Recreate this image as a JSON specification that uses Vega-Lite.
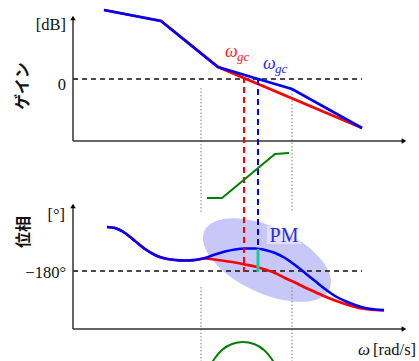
{
  "$schema": "https://vega.github.io/schema/vega-lite/v6.json",
  "width": 419,
  "height": 361,
  "autosize": {"type": "none"},
  "padding": 0,
  "background": "white",
  "config": {"view": {"stroke": null}},
  "datasets": {
    "ellipse": [{"x": 267, "y": 260}],
    "pmbox": [{"x": 267, "x2": 301, "y": 226, "y2": 244}],
    "hdash": [{"x": 73, "x2": 362, "y": 79}, {"x": 73, "x2": 362, "y": 271}],
    "ticks": [{"x": 73, "x2": 77, "y": 79}, {"x": 73, "x2": 77, "y": 271}],
    "dotted": [
      {"x": 201, "y": 88, "y2": 213}, {"x": 201, "y": 287, "y2": 361},
      {"x": 292, "y": 90, "y2": 212}, {"x": 292, "y": 287, "y2": 361}
    ],
    "gainRed": [{"x": 104, "y": 10}, {"x": 161, "y": 21}, {"x": 218, "y": 67}, {"x": 362, "y": 128}],
    "gainBlue": [{"x": 104, "y": 10}, {"x": 161, "y": 21}, {"x": 218, "y": 67}, {"x": 258, "y": 79}, {"x": 292, "y": 89}, {"x": 362, "y": 128}],
    "phaseRed": [
      {"x": 107, "y": 227}, {"x": 115, "y": 228}, {"x": 125, "y": 233}, {"x": 135, "y": 241}, {"x": 145, "y": 249},
      {"x": 155, "y": 255}, {"x": 165, "y": 258.5}, {"x": 175, "y": 260}, {"x": 185, "y": 260.5}, {"x": 195, "y": 260}, {"x": 205, "y": 258.5},
      {"x": 215, "y": 259.5}, {"x": 225, "y": 261}, {"x": 235, "y": 262.5}, {"x": 245, "y": 264.5}, {"x": 255, "y": 266.5},
      {"x": 265, "y": 269.5}, {"x": 275, "y": 273}, {"x": 285, "y": 278}, {"x": 295, "y": 282.5}, {"x": 305, "y": 287.5},
      {"x": 315, "y": 292}, {"x": 325, "y": 296.5}, {"x": 335, "y": 300.5}, {"x": 345, "y": 304}, {"x": 355, "y": 307},
      {"x": 365, "y": 309}, {"x": 375, "y": 310}, {"x": 384, "y": 310.5}
    ],
    "phaseBlue": [
      {"x": 107, "y": 227}, {"x": 115, "y": 228}, {"x": 125, "y": 233}, {"x": 135, "y": 241}, {"x": 145, "y": 249},
      {"x": 155, "y": 255}, {"x": 165, "y": 258.5}, {"x": 175, "y": 260}, {"x": 185, "y": 260.5}, {"x": 195, "y": 260}, {"x": 205, "y": 258},
      {"x": 215, "y": 254.5}, {"x": 225, "y": 251.5}, {"x": 235, "y": 249.5}, {"x": 245, "y": 248.5}, {"x": 255, "y": 248.5},
      {"x": 265, "y": 250}, {"x": 275, "y": 253}, {"x": 285, "y": 258}, {"x": 295, "y": 265}, {"x": 305, "y": 273},
      {"x": 315, "y": 281}, {"x": 325, "y": 289}, {"x": 335, "y": 296}, {"x": 345, "y": 301}, {"x": 355, "y": 305},
      {"x": 365, "y": 308}, {"x": 375, "y": 309.5}, {"x": 384, "y": 310}
    ],
    "redV": [{"x": 244, "y": 77, "y2": 272}],
    "blueV": [{"x": 258, "y": 79, "y2": 249}],
    "teal": [{"x": 258, "y": 249, "y2": 272}],
    "greenRamp": [{"x": 207, "y": 198}, {"x": 222, "y": 198}, {"x": 275, "y": 154}, {"x": 289, "y": 153}],
    "greenArc": [{"x": 210, "y": 366}, {"x": 215, "y": 358}, {"x": 222, "y": 350}, {"x": 232, "y": 344}, {"x": 243, "y": 342}, {"x": 254, "y": 344}, {"x": 264, "y": 350}, {"x": 271, "y": 358}, {"x": 276, "y": 366}],
    "axes": [
      {"x": 73, "x2": 73, "y": 141, "y2": 18},
      {"x": 73, "x2": 403, "y": 141, "y2": 141},
      {"x": 73, "x2": 73, "y": 329, "y2": 207},
      {"x": 73, "x2": 403, "y": 329, "y2": 329}
    ],
    "arrowsUp": [{"x": 73, "y": 18}, {"x": 73, "y": 206}],
    "arrowsRight": [{"x": 404, "y": 141}, {"x": 404, "y": 329}],
    "serifLabels": [
      {"x": 66, "y": 25, "t": "[dB]"},
      {"x": 66, "y": 85, "t": "0"},
      {"x": 66, "y": 273, "t": "−180°"},
      {"x": 65, "y": 215, "t": "[°]"}
    ],
    "unitLabel": [{"x": 373, "y": 350, "t": "[rad/s]"}],
    "omegaAxis": [{"x": 358, "y": 350, "t": "ω"}],
    "cjk": [{"x": 23, "y": 86, "t": "ゲイン"}, {"x": 24, "y": 232, "t": "位相"}],
    "omegaRed": [{"x": 225, "y": 52, "t": "ω"}],
    "subRed": [{"x": 237, "y": 57, "t": "gc"}],
    "omegaBlue": [{"x": 263, "y": 64, "t": "ω"}],
    "subBlue": [{"x": 275, "y": 69, "t": "gc"}],
    "pm": [{"x": 284, "y": 236, "t": "PM"}]
  },
  "encoding": {
    "x": {"field": "x", "type": "quantitative", "axis": null, "scale": {"domain": [0, 419], "nice": false, "zero": false}},
    "y": {"field": "y", "type": "quantitative", "axis": null, "scale": {"domain": [0, 361], "nice": false, "zero": false, "reverse": true}}
  },
  "layer": [
    {
      "data": {"name": "ellipse"},
      "mark": {"type": "point", "filled": true, "shape": "M-1,0A1,0.48,0,1,0,1,0A1,0.48,0,1,0,-1,0Z", "size": 19044, "angle": 25, "color": "#c8c8f8", "opacity": 1, "strokeWidth": 0}
    },
    {
      "data": {"name": "pmbox"},
      "mark": {"type": "rect", "color": "white", "opacity": 0.45},
      "encoding": {"x2": {"field": "x2"}, "y2": {"field": "y2"}}
    },
    {
      "data": {"name": "dotted"},
      "mark": {"type": "rule", "color": "#808080", "strokeWidth": 1, "strokeDash": [1.5, 2]},
      "encoding": {"y2": {"field": "y2"}}
    },
    {
      "data": {"name": "hdash"},
      "mark": {"type": "rule", "color": "#111111", "strokeWidth": 1.3, "strokeDash": [5, 4]},
      "encoding": {"x2": {"field": "x2"}}
    },
    {
      "data": {"name": "ticks"},
      "mark": {"type": "rule", "color": "#333333", "strokeWidth": 1.2},
      "encoding": {"x2": {"field": "x2"}}
    },
    {
      "data": {"name": "axes"},
      "mark": {"type": "rule", "color": "#333333", "strokeWidth": 1.5},
      "encoding": {"x2": {"field": "x2"}, "y2": {"field": "y2"}}
    },
    {
      "data": {"name": "arrowsUp"},
      "mark": {"type": "point", "shape": "triangle-up", "filled": true, "color": "black", "size": 30, "opacity": 1}
    },
    {
      "data": {"name": "arrowsRight"},
      "mark": {"type": "point", "shape": "triangle-right", "filled": true, "color": "black", "size": 30, "opacity": 1}
    },
    {
      "data": {"name": "gainRed"},
      "mark": {"type": "line", "color": "#ff0000", "strokeWidth": 2.6}
    },
    {
      "data": {"name": "gainBlue"},
      "mark": {"type": "line", "color": "#0000ff", "strokeWidth": 2.6}
    },
    {
      "data": {"name": "phaseRed"},
      "mark": {"type": "line", "color": "#ff0000", "strokeWidth": 2.6, "interpolate": "monotone"}
    },
    {
      "data": {"name": "phaseBlue"},
      "mark": {"type": "line", "color": "#0000ff", "strokeWidth": 2.6, "interpolate": "monotone"}
    },
    {
      "data": {"name": "redV"},
      "mark": {"type": "rule", "color": "#ff0000", "strokeWidth": 2, "strokeDash": [6, 4]},
      "encoding": {"y2": {"field": "y2"}}
    },
    {
      "data": {"name": "blueV"},
      "mark": {"type": "rule", "color": "#0000ff", "strokeWidth": 2, "strokeDash": [6, 4]},
      "encoding": {"y2": {"field": "y2"}}
    },
    {
      "data": {"name": "teal"},
      "mark": {"type": "rule", "color": "#1ccc98", "strokeWidth": 3},
      "encoding": {"y2": {"field": "y2"}}
    },
    {
      "data": {"name": "greenRamp"},
      "mark": {"type": "line", "color": "#008000", "strokeWidth": 2}
    },
    {
      "data": {"name": "greenArc"},
      "mark": {"type": "line", "color": "#008000", "strokeWidth": 2, "interpolate": "monotone", "clip": true}
    },
    {
      "data": {"name": "serifLabels"},
      "mark": {"type": "text", "font": "Liberation Serif", "fontSize": 16.5, "align": "right", "baseline": "middle", "color": "#111111"},
      "encoding": {"text": {"field": "t"}}
    },
    {
      "data": {"name": "unitLabel"},
      "mark": {"type": "text", "font": "Liberation Serif", "fontSize": 16.5, "align": "left", "baseline": "middle", "color": "#111111"},
      "encoding": {"text": {"field": "t"}}
    },
    {
      "data": {"name": "omegaAxis"},
      "mark": {"type": "text", "font": "Liberation Serif", "fontStyle": "italic", "fontSize": 17, "align": "left", "baseline": "middle", "color": "#111111"},
      "encoding": {"text": {"field": "t"}}
    },
    {
      "data": {"name": "cjk"},
      "mark": {"type": "text", "font": "Noto Sans CJK JP", "fontWeight": "bold", "fontSize": 16, "align": "center", "baseline": "middle", "angle": 270, "color": "#111111"},
      "encoding": {"text": {"field": "t"}}
    },
    {
      "data": {"name": "omegaRed"},
      "mark": {"type": "text", "font": "Liberation Serif", "fontStyle": "italic", "fontSize": 18, "align": "left", "baseline": "middle", "color": "#ff2020"},
      "encoding": {"text": {"field": "t"}}
    },
    {
      "data": {"name": "subRed"},
      "mark": {"type": "text", "font": "Liberation Serif", "fontStyle": "italic", "fontSize": 13, "align": "left", "baseline": "middle", "color": "#ff2020"},
      "encoding": {"text": {"field": "t"}}
    },
    {
      "data": {"name": "omegaBlue"},
      "mark": {"type": "text", "font": "Liberation Serif", "fontStyle": "italic", "fontSize": 18, "align": "left", "baseline": "middle", "color": "#2a2af0"},
      "encoding": {"text": {"field": "t"}}
    },
    {
      "data": {"name": "subBlue"},
      "mark": {"type": "text", "font": "Liberation Serif", "fontStyle": "italic", "fontSize": 13, "align": "left", "baseline": "middle", "color": "#2a2af0"},
      "encoding": {"text": {"field": "t"}}
    },
    {
      "data": {"name": "pm"},
      "mark": {"type": "text", "font": "Liberation Serif", "fontSize": 20, "align": "center", "baseline": "middle", "color": "#2a2af0"},
      "encoding": {"text": {"field": "t"}}
    }
  ]
}
